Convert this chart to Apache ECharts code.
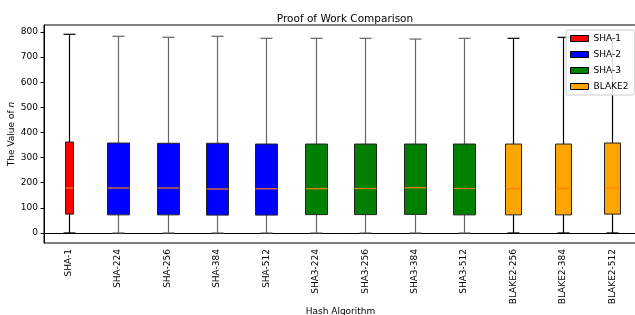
<!DOCTYPE html>
<html>
<head>
<meta charset="utf-8">
<script src="https://cdn.jsdelivr.net/npm/echarts@6/dist/echarts.min.js"></script>
<style>
  html, body { margin: 0; padding: 0; background: #fff; }
  #chart { width: 635px; height: 315px; }
</style>
</head>
<body>
<div id="chart"></div>
<script>
// hash algorithms on the x axis
const categories = ['SHA-1', 'SHA-224', 'SHA-256', 'SHA-384', 'SHA-512',
  'SHA3-224', 'SHA3-256', 'SHA3-384', 'SHA3-512',
  'BLAKE2-256', 'BLAKE2-384', 'BLAKE2-512'];
const families = ['SHA-1', 'SHA-2', 'SHA-3', 'BLAKE2'];
const familyOf = [0, 1, 1, 1, 1, 2, 2, 2, 2, 3, 3, 3];

// box statistics
const mins    = [0, 0, 0, 0, 0, 0, 0, 0, 0, 0, 0, 0];
const q1      = [75, 72, 72, 71, 71, 73, 73, 74, 72, 72, 72, 75];
const medians = [179, 179, 179, 175, 176, 176, 177, 180, 177, 176, 177, 179];
const q3      = [362, 358, 357, 357, 354, 354, 354, 354, 354, 354, 354, 358];
const maxs    = [791, 783, 779, 783, 775, 775, 775, 772, 775, 775, 779, 775];

const yTicks = [0, 100, 200, 300, 400, 500, 600, 700, 800];

const colors = ['#ff0000', '#0000ff', '#008000', '#ffa500'];
const boxWidths = [8, 22, 22, 16];
const whiskerColors = ['#000', '#666', '#666', '#000'];

const chart = echarts.init(document.getElementById('chart'));

function renderBox(params, api) {
  const fi = params.seriesIndex;
  const x = Math.round(api.coord([api.value(0), 0])[0]) + 0.5;
  const y = v => api.coord([api.value(0), v])[1];
  const yMin = y(api.value(1)), yQ1 = y(api.value(2)), yMed = y(api.value(3));
  const yQ3 = y(api.value(4)), yMax = y(api.value(5));
  const w = boxWidths[fi], cap = 12;
  const wl = { stroke: whiskerColors[fi], lineWidth: 1.2 };
  return {
    type: 'group',
    children: [
      { type: 'line', shape: { x1: x, y1: yMin, x2: x, y2: yQ1 }, style: wl },
      { type: 'line', shape: { x1: x, y1: yQ3, x2: x, y2: yMax }, style: wl },
      { type: 'line', shape: { x1: x - cap / 2, y1: yMin, x2: x + cap / 2, y2: yMin }, style: wl },
      { type: 'line', shape: { x1: x - cap / 2, y1: yMax, x2: x + cap / 2, y2: yMax }, style: wl },
      { type: 'rect', shape: { x: x - w / 2, y: yQ3, width: w, height: yQ1 - yQ3 },
        style: { fill: colors[fi], stroke: '#222', lineWidth: 1 } },
      { type: 'line', shape: { x1: x - w / 2, y1: yMed, x2: x + w / 2, y2: yMed },
        style: { stroke: '#ff7f0e', lineWidth: 1.2 } }
    ]
  };
}

const series = families.map((name, fi) => ({
  name: name,
  type: 'custom',
  renderItem: renderBox,
  itemStyle: { color: colors[fi], borderColor: '#000', borderWidth: 1 },
  encode: { x: 0, y: [1, 2, 3, 4, 5] },
  data: categories
    .map((c, i) => [i, mins[i], q1[i], medians[i], q3[i], maxs[i]])
    .filter((d, i) => familyOf[i] === fi),
  z: 3
}));

chart.setOption({
  animation: false,
  textStyle: { fontFamily: 'DejaVu Sans' },
  title: {
    text: 'Proof of Work Comparison',
    left: 340, top: 9,
    textAlign: 'center',
    textStyle: { fontSize: 10.5, fontWeight: 'normal', color: '#000' }
  },
  legend: {
    orient: 'vertical',
    left: 566, top: 30,
    data: families.map((f, i) => ({
      name: f, icon: 'rect',
      itemStyle: { color: colors[i], borderColor: '#000', borderWidth: 1 }
    })),
    itemWidth: 18, itemHeight: 6, itemGap: 7,
    padding: [4, 6, 4, 4],
    backgroundColor: 'rgba(255,255,255,0.85)',
    borderColor: '#ccc', borderWidth: 1, borderRadius: 2,
    textStyle: { fontSize: 9, color: '#000' }
  },
  grid: {
    left: 44, top: 25, width: 593, bottom: 72,
    outerBoundsMode: 'none',
    containLabel: false,
    show: true, borderColor: '#000', borderWidth: 1, backgroundColor: 'transparent'
  },
  xAxis: {
    type: 'category',
    data: categories,
    name: 'Hash Algorithm',
    nameLocation: 'middle',
    nameGap: 64,
    nameMoveOverlap: false,
    nameTextStyle: { fontSize: 9, color: '#000', padding: 0 },
    axisLine: { lineStyle: { color: '#000', width: 1 } },
    axisTick: { alignWithLabel: true, length: 3.5, lineStyle: { color: '#000' } },
    axisLabel: { rotate: 90, interval: 0, fontSize: 9, color: '#000', margin: 6 },
    splitLine: { show: false }
  },
  yAxis: {
    type: 'value',
    min: -40, max: 828,
    name: 'The Value of {b|n}',
    nameLocation: 'middle',
    nameGap: 28,
    nameMoveOverlap: false,
    nameTextStyle: {
      fontSize: 9, color: '#000', padding: 0,
      rich: {
        b: { fontSize: 9, color: '#000', fontStyle: 'italic' }
      }
    },
    axisLine: { show: true, lineStyle: { color: '#000', width: 1 } },
    axisTick: { show: true, length: 3.5, customValues: yTicks, lineStyle: { color: '#000' } },
    axisLabel: { fontSize: 9, color: '#000', margin: 6, customValues: yTicks },
    splitLine: { show: false }
  },
  series: series
});
</script>
</body>
</html>
